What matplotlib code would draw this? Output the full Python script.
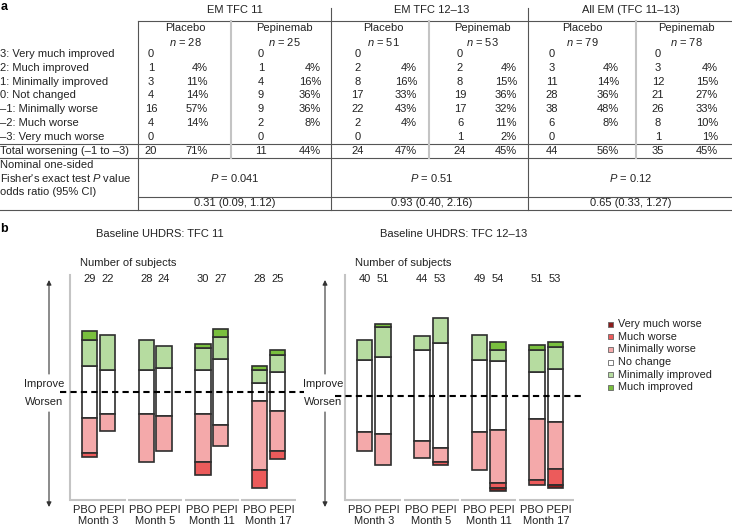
import matplotlib
matplotlib.use('Agg')
import matplotlib.pyplot as plt
import matplotlib.transforms as mtransforms
from matplotlib.patches import Rectangle
import numpy as np

plt.rcParams['font.family'] = 'Liberation Sans'
plt.rcParams['mathtext.fontset'] = 'custom'
plt.rcParams['mathtext.rm'] = 'Liberation Sans'
plt.rcParams['mathtext.it'] = 'Liberation Sans:italic'

TXT = '#222222'
DARK = '#555555'
GRAY = '#c4c4c4'

# ---------------- panel a: table ----------------
groups = ['EM TFC 11', 'EM TFC 12–13', 'All EM (TFC 11–13)']
arms = ['Placebo', 'Pepinemab']
row_labels = ['3: Very much improved', '2: Much improved', '1: Minimally improved',
              '0: Not changed', '–1: Minimally worse', '–2: Much worse',
              '–3: Very much worse']
n_arm = [28, 25, 51, 53, 79, 78]
counts_arm = [
    [0, 1, 3, 4, 16, 4, 0],
    [0, 1, 4, 9, 9, 2, 0],
    [0, 2, 8, 17, 22, 2, 0],
    [0, 2, 8, 19, 17, 6, 1],
    [0, 3, 11, 28, 38, 6, 0],
    [0, 3, 12, 21, 26, 8, 1],
]
pct_arm = [
    ['', '4%', '11%', '14%', '57%', '14%', ''],
    ['', '4%', '16%', '36%', '36%', '8%', ''],
    ['', '4%', '16%', '33%', '43%', '4%', ''],
    ['', '4%', '15%', '36%', '32%', '11%', '2%'],
    ['', '4%', '14%', '36%', '48%', '8%', ''],
    ['', '4%', '15%', '27%', '33%', '10%', '1%'],
]
total_worse = [20, 11, 24, 24, 44, 35]
total_pct = ['71%', '44%', '47%', '45%', '56%', '45%']
p_values = ['0.041', '0.51', '0.12']
odds_ratios = ['0.31 (0.09, 1.12)', '0.93 (0.40, 2.16)', '0.65 (0.33, 1.27)']

# ---------------- panel b: subjects per category ----------------
months = ['Month 3', 'Month 5', 'Month 11', 'Month 17']
categories = ['Very much worse', 'Much worse', 'Minimally worse', 'No change',
              'Minimally improved', 'Much improved']
cat_colors = ['#8c1c1c', '#ec5b5b', '#f4a9aa', '#ffffff', '#b6dca0', '#79bf3e']

# rows follow categories, columns follow months
tfc11_pbo = [[0, 0, 0, 0], [1, 0, 3, 4], [8, 11, 11, 16], [12, 10, 10, 4],
             [6, 7, 5, 3], [2, 0, 1, 1]]
tfc11_pepi = [[0, 0, 0, 0], [0, 0, 0, 2], [4, 8, 5, 9], [10, 11, 15, 9],
              [8, 5, 5, 4], [0, 0, 2, 1]]
tfc1213_pbo = [[0, 0, 0, 0], [0, 0, 0, 2], [7, 6, 14, 22], [26, 33, 26, 17],
               [7, 5, 9, 8], [0, 0, 0, 2]]
tfc1213_pepi = [[0, 0, 1, 1], [0, 1, 2, 6], [11, 5, 19, 17], [28, 38, 25, 19],
                [11, 9, 4, 8], [1, 0, 3, 2]]

fig = plt.figure(figsize=(7.32, 5.27), dpi=100)

# bar panels (pixel layout: x 70-297 / 345-575, y 275-500)
W, H = 732, 527
ax1 = fig.add_axes([70 / W, 27 / H, 227 / W, 225 / H])
ax2 = fig.add_axes([345 / W, 27 / H, 230 / W, 225 / H])


def draw_panel(ax, pbo, pepi, ylim):
    x = np.arange(len(months))
    ax.set_xlim(-0.5, 3.5)
    ax.set_ylim(*ylim)
    ax.set_facecolor('none')
    trans = mtransforms.blended_transform_factory(ax.transData, ax.transAxes)
    for data, off in ((pbo, -0.157), (pepi, 0.157)):
        data = np.array(data, dtype=float)
        nc = data[3]
        kw = dict(width=0.27, edgecolor='#2e2e2e', linewidth=1.2, zorder=2)
        ax.bar(x + off, nc, bottom=-nc / 2, color=cat_colors[3], **kw)
        up = nc / 2
        for k in (4, 5):
            m = data[k] > 0
            ax.bar(x[m] + off, data[k][m], bottom=up[m], color=cat_colors[k], **kw)
            up = up + data[k]
        down = -nc / 2
        for k in (2, 1, 0):
            m = data[k] > 0
            ax.bar(x[m] + off, -data[k][m], bottom=down[m], color=cat_colors[k], **kw)
            down = down - data[k]
        for i in range(len(months)):
            ax.text(x[i] + off, 0.982, '%d' % data[:, i].sum(), transform=trans,
                    ha='center', va='center', fontsize=8, color=TXT)
    # dashed zero line running past the axes
    ax.plot([-0.67, 3.62], [0, 0], ls=(0, (3, 2)), color='black', lw=1.5,
            zorder=3, clip_on=False)
    for s in ('top', 'right', 'bottom'):
        ax.spines[s].set_visible(False)
    ax.spines['left'].set_color(GRAY)
    ax.spines['left'].set_linewidth(1.5)
    for g in range(len(months)):
        x0 = -0.5 if g == 0 else g - 0.48
        ax.plot([x0, g + 0.48], [ylim[0], ylim[0]], color=GRAY, lw=1.5,
                clip_on=False, solid_capstyle='butt')
    ax.set_yticks([])
    ax.set_xticks(x)
    ax.set_xticklabels(['PBO PEPI\n' + m for m in months], fontsize=8,
                       color=TXT, linespacing=1.1)
    ax.tick_params(axis='x', length=0, pad=3.5)


draw_panel(ax1, tfc11_pbo, tfc11_pepi, (-24.8, 26.8))
draw_panel(ax2, tfc1213_pbo, tfc1213_pepi, (-37.8, 43.7))

# overlay in pixel coordinates for the table and annotations
ov = fig.add_axes([0, 0, 1, 1])
ov.set_xlim(0, W)
ov.set_ylim(H, 0)
ov.axis('off')

fs = 8
ov.text(0.5, 0.5, 'a', fontsize=9, fontweight='bold', va='top', color='black')

# table lines
for y0, x0 in ((21, 138), (144, 0), (158, 0), (197, 138), (210, 0)):
    ov.plot([x0, W], [y0, y0], color=DARK, lw=0.8)
ov.plot([138, 138], [21, 210], color=DARK, lw=0.8)
for xv in (331, 528):
    ov.plot([xv, xv], [8, 210], color=DARK, lw=0.8)
for xv in (231, 429, 636):
    ov.plot([xv, xv], [21, 158], color=GRAY, lw=1.5)

group_center = [234.5, 431.5, 631]
arm_center = [185, 284, 383, 482, 582, 686]
count_x = [151, 261, 357.5, 460, 551.5, 658]
pct_right = [208, 321, 417, 517, 619, 718]
row_y = [54 + 13.8 * i for i in range(len(row_labels))]

for g, name in enumerate(groups):
    ov.text(group_center[g], 10, name, ha='center', va='center', fontsize=fs, color=TXT)
    ov.text(group_center[g], 178, '$P$ = ' + p_values[g], ha='center', va='center',
            fontsize=fs, color=TXT)
    ov.text(group_center[g], 203.5, odds_ratios[g], ha='center', va='center',
            fontsize=fs, color=TXT)

for j in range(len(n_arm)):
    ov.text(arm_center[j], 28, arms[j % 2], ha='center', va='center', fontsize=fs, color=TXT)
    ov.text(arm_center[j], 42, '$n$ = %d' % n_arm[j], ha='center', va='center',
            fontsize=fs, color=TXT)
    for i in range(len(row_labels)):
        ov.text(count_x[j], row_y[i], str(counts_arm[j][i]), ha='center', va='center',
                fontsize=fs, color=TXT)
        ov.text(pct_right[j], row_y[i], pct_arm[j][i], ha='right', va='center',
                fontsize=fs, color=TXT)
    ov.text(count_x[j], 151, str(total_worse[j]), ha='center', va='center',
            fontsize=fs, color=TXT)
    ov.text(pct_right[j], 151, total_pct[j], ha='right', va='center', fontsize=fs, color=TXT)

for i, lab in enumerate(row_labels):
    ov.text(0, row_y[i], lab, va='center', fontsize=fs, color=TXT)
ov.text(0, 151, 'Total worsening (–1 to –3)', va='center', fontsize=fs, color=TXT)
ov.text(0, 165, 'Nominal one-sided', va='center', fontsize=fs, color=TXT)
ov.text(0, 178.5, "Fisher's exact test $P$ value", va='center', fontsize=fs, color=TXT)
ov.text(0, 192, 'odds ratio (95% CI)', va='center', fontsize=fs, color=TXT)

# panel b headings
ov.text(0.5, 229, 'b', fontsize=9, fontweight='bold', va='center', color='black')
ov.text(96, 234, 'Baseline UHDRS: TFC 11', va='center', fontsize=fs, color=TXT)
ov.text(380, 234, 'Baseline UHDRS: TFC 12–13', va='center', fontsize=fs, color=TXT)
ov.text(80, 263, 'Number of subjects', va='center', fontsize=fs, color=TXT)
ov.text(355, 263, 'Number of subjects', va='center', fontsize=fs, color=TXT)

# improve / worsen arrows
for ax_x, tx in ((49, 44), (325, 323)):
    ap = dict(arrowstyle='-|>', color='#333333', lw=0.8, mutation_scale=7,
              shrinkA=0, shrinkB=0)
    ov.annotate('', xy=(ax_x, 280), xytext=(ax_x, 374), arrowprops=ap)
    ov.annotate('', xy=(ax_x, 507), xytext=(ax_x, 412), arrowprops=ap)
    ov.text(tx, 384, 'Improve', ha='center', va='center', fontsize=fs, color=TXT)
    ov.text(tx, 402, 'Worsen', ha='center', va='center', fontsize=fs, color=TXT)

# legend
for i, cat in enumerate(categories):
    yy = 324 + 12.7 * i
    ov.add_patch(Rectangle((608.2, yy - 2.5), 5, 5, facecolor=cat_colors[i],
                           edgecolor='#666666', lw=0.6))
    ov.text(618.3, yy, cat, va='center', fontsize=7.8, color=TXT)

fig.savefig('out.png', dpi=100)
